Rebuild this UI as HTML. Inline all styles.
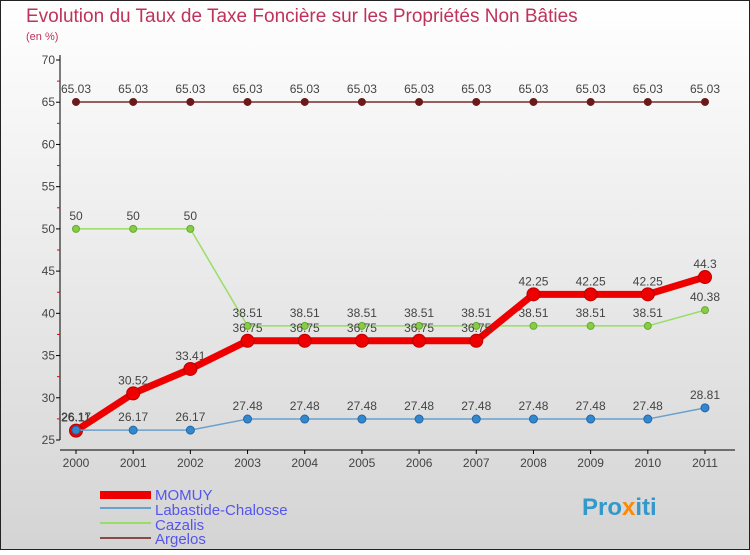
<!DOCTYPE html>
<html><head><meta charset="utf-8"><style>
html,body{margin:0;padding:0}
body{width:750px;height:550px;overflow:hidden;font-family:"Liberation Sans",sans-serif}
</style></head><body>
<svg id="chart" width="750" height="550" xmlns="http://www.w3.org/2000/svg">
<defs><linearGradient id="bg" x1="0" y1="0" x2="0" y2="1"><stop offset="0" stop-color="#ffffff"/><stop offset="1" stop-color="#d4d4d4"/></linearGradient></defs>
<rect x="0.5" y="0.5" width="749" height="549" fill="url(#bg)" stroke="#222"/>
<text x="26" y="22" font-size="19" fill="#c0325a">Evolution du Taux de Taxe Foncière sur les Propriétés Non Bâties</text>
<text x="26" y="40" font-size="11" fill="#c0325a">(en %)</text>
<g id="axes"></g><g id="series"></g>
<g>
<rect x="100" y="491" width="51" height="8" fill="#e00"/>
<line x1="100" y1="508" x2="151" y2="508" stroke="#6aa0cc" stroke-width="2"/>
<line x1="100" y1="523" x2="151" y2="523" stroke="#99dd66" stroke-width="2"/>
<line x1="100" y1="538" x2="151" y2="538" stroke="#8a4a4a" stroke-width="2"/>
<text x="155" y="500" font-size="15" fill="#5555ee">MOMUY</text>
<text x="155" y="515" font-size="15" fill="#5555ee">Labastide-Chalosse</text>
<text x="155" y="530" font-size="15" fill="#5555ee">Cazalis</text>
<text x="155" y="544" font-size="15" fill="#5555ee">Argelos</text>
</g>
<text x="582" y="515" font-size="24" font-weight="bold" fill="#3399cc">Pro<tspan fill="#ff8800">x</tspan>iti</text>
</svg>
<script>
const years=[2000,2001,2002,2003,2004,2005,2006,2007,2008,2009,2010,2011];
const momuy=[26.11,30.52,33.41,36.75,36.75,36.75,36.75,36.75,42.25,42.25,42.25,44.3];
const labastide=[26.17,26.17,26.17,27.48,27.48,27.48,27.48,27.48,27.48,27.48,27.48,28.81];
const cazalis=[50,50,50,38.51,38.51,38.51,38.51,38.51,38.51,38.51,38.51,40.38];
const argelos=[65.03,65.03,65.03,65.03,65.03,65.03,65.03,65.03,65.03,65.03,65.03,65.03];
const yTicks=[25,30,35,40,45,50,55,60,65,70];
const NS="http://www.w3.org/2000/svg";
const xS=i=>76+i*(705-76)/(years.length-1);
const yS=v=>440-(v-25)*(380/45);
function mk(tag,attrs,parent){const e=document.createElementNS(NS,tag);for(const k in attrs)e.setAttribute(k,attrs[k]);parent.appendChild(e);return e;}
const ax=document.getElementById('axes');
let l=mk('line',{x1:60,y1:55,x2:60,y2:440,stroke:'#000'},ax);


l=mk('line',{x1:60,y1:450,x2:735,y2:450,stroke:'#000'},ax);


yTicks.forEach(t=>{
  mk('line',{x1:56,y1:yS(t),x2:60,y2:yS(t),stroke:'#000'},ax);
  if(t<70) mk('line',{x1:57,y1:yS(t+2.5),x2:60,y2:yS(t+2.5),stroke:'#e00'},ax);
  const tx=mk('text',{x:55,y:yS(t)+4,'font-size':12,'text-anchor':'end',fill:'#444'},ax);
  tx.textContent=t;
  
  
});
years.forEach((y,i)=>{
  mk('line',{x1:xS(i),y1:450,x2:xS(i),y2:454,stroke:'#000'},ax);
  const tx=mk('text',{x:xS(i),y:467,'font-size':12,'text-anchor':'middle',fill:'#444'},ax);
  tx.textContent=y;
  
  
});
const sg=document.getElementById('series');
function series(name,data,color,w,r,dot,stroke){
  const g=mk('g',{},sg);
  
  
  mk('polyline',{points:data.map((v,i)=>xS(i)+','+yS(v)).join(' '),fill:'none',stroke:color,'stroke-width':w,'stroke-linejoin':'round'},g);
  data.forEach((v,i)=>{
    const c=mk('circle',{cx:xS(i),cy:yS(v),r:r,fill:dot,stroke:stroke,'stroke-width':1},g);
    
    
    const t=mk('text',{x:xS(i),y:yS(v)-9,'font-size':12,'text-anchor':'middle',fill:'#444'},g);
    t.textContent=String(v);
    
    
  });
}
series('argelos-series',argelos,'#7a2a2a',1.5,3.5,'#6a1a1a','#6a1a1a');
series('cazalis-series',cazalis,'#99dd66',1.5,3.5,'#88cc44','#66aa33');
series('momuy-series',momuy,'#ee0000',7,6.5,'#ee0000','#bb0000');
series('labastide-series',labastide,'#6aa0cc',1.5,4,'#3388cc','#2266aa');
</script>
</body></html>
